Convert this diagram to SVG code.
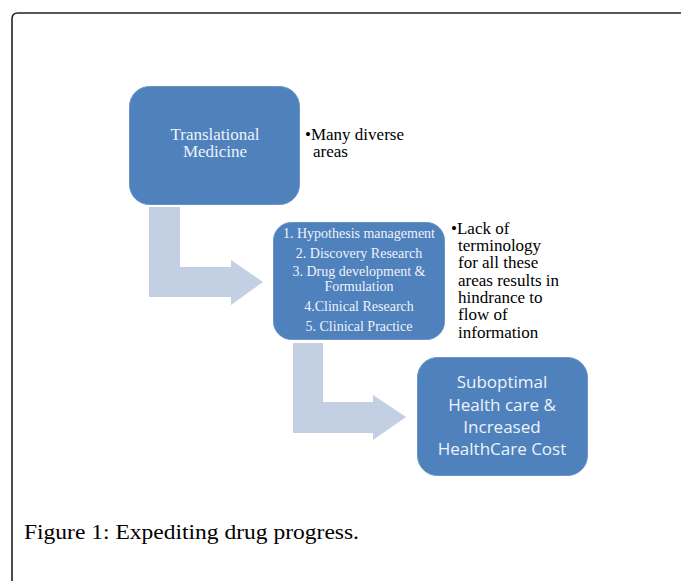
<svg xmlns="http://www.w3.org/2000/svg" width="681" height="581" viewBox="0 0 681 581">
<style>
.box{fill:#4f81bd;stroke:#6a94c8;stroke-width:1}
.arrow{fill:#c3cfe3}
.serifW{font-family:"Liberation Serif","Times New Roman",serif;fill:#eef3fa;text-anchor:middle}
.serifB{font-family:"Liberation Serif","Times New Roman",serif;fill:#000}
.sansW{font-family:"Open Sans","Liberation Sans",sans-serif;fill:#eef3fa;text-anchor:middle;font-size:17px}
</style>
<rect width="681" height="581" fill="#fff"/>
<path d="M12,600 V19 Q12,13 18,13 H700" fill="none" stroke="#222" stroke-width="1.6"/>
<g id="connectors">
<path class="arrow" d="M149,207 H180 V267 H231 V260 L263,282 L231,305 V297 H149 Z"/>
<path class="arrow" d="M293,343 H323 V402 H373 V395 L406,417 L373,440 V433 H293 Z"/>
</g>
<g id="node-translational">
<rect class="box" x="129.5" y="86.5" width="170" height="118" rx="20"/>
<text class="serifW" font-size="17" x="215" y="140">Translational</text>
<text class="serifW" font-size="17" x="215" y="157">Medicine</text>
</g>
<g id="note-diverse">
<text class="serifB" font-size="17" x="305" y="140">•Many diverse</text>
<text class="serifB" font-size="17" x="313" y="157">areas</text>
</g>
<g id="node-areas">
<rect class="box" x="273.5" y="222.5" width="171" height="117" rx="18"/>
<text class="serifW" font-size="14" x="359" y="238">1. Hypothesis management</text>
<text class="serifW" font-size="14" x="359" y="258">2. Discovery Research</text>
<text class="serifW" font-size="14" x="359" y="276">3. Drug development &amp;</text>
<text class="serifW" font-size="14" x="359" y="291">Formulation</text>
<text class="serifW" font-size="14" x="359" y="311">4.Clinical Research</text>
<text class="serifW" font-size="14" x="359" y="331">5. Clinical Practice</text>
</g>
<g id="note-terminology">
<text class="serifB" font-size="17" x="451" y="234">•Lack of</text>
<text class="serifB" font-size="17" x="458" y="251">terminology</text>
<text class="serifB" font-size="17" x="458" y="268">for all these</text>
<text class="serifB" font-size="17" x="458" y="286">areas results in</text>
<text class="serifB" font-size="17" x="458" y="303">hindrance to</text>
<text class="serifB" font-size="17" x="458" y="320">flow of</text>
<text class="serifB" font-size="17" x="458" y="338">information</text>
</g>
<g id="node-suboptimal">
<rect class="box" x="417.5" y="357.5" width="170" height="118" rx="20"/>
<text class="sansW" x="502" y="388">Suboptimal</text>
<text class="sansW" x="502" y="411">Health care &amp;</text>
<text class="sansW" x="502" y="433">Increased</text>
<text class="sansW" x="502" y="455">HealthCare Cost</text>
</g>
<text class="serifB" font-size="22" x="24" y="539" textLength="335" lengthAdjust="spacingAndGlyphs">Figure 1: Expediting drug progress.</text>
</svg>
